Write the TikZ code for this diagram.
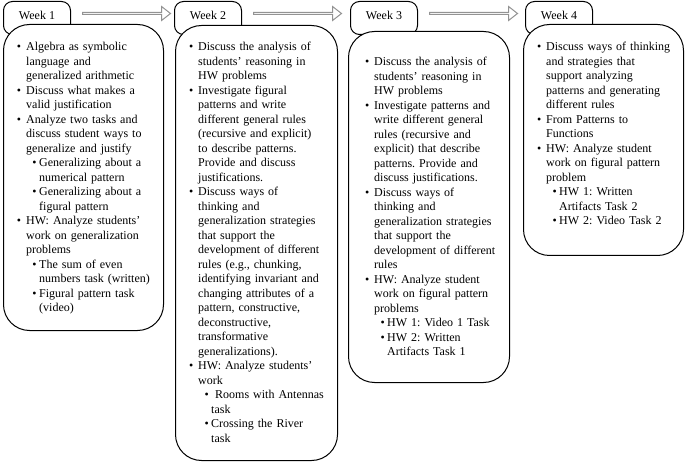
\documentclass[tikz,border=0pt]{standalone}
\usepackage{fontspec}
\setmainfont{Liberation Serif}
\usepackage{enumitem}
\usetikzlibrary{positioning,shapes.arrows}
\frenchspacing

\setlist[itemize]{nosep,label=\textbullet}
\setlist[itemize,1]{leftmargin=15pt,labelsep=5pt}
\setlist[itemize,2]{leftmargin=13pt,labelsep=2.5pt}

\tikzset{
  weektab/.style={draw=black,line width=1pt,fill=white,rounded corners=9pt,
    anchor=north west,minimum width=67pt,minimum height=33pt,
    text height=11.5pt,text depth=7.5pt,inner ysep=7pt,
    font=\fontsize{12}{14.5}\selectfont},
  weekbox/.style={draw=black,line width=1pt,fill=white,rounded corners=26pt,
    anchor=north west,inner sep=0pt},
  weektext/.style={anchor=north west,inner sep=0pt,text width=145pt,align=left,
    font=\fontsize{12}{14.5}\selectfont},
  weekarrow/.style={shape=single arrow,draw=gray!85,line width=1pt,fill=white,
    anchor=west,minimum height=88pt,minimum width=14pt,
    single arrow head extend=3pt,single arrow tip angle=76,inner sep=0pt}
}

\begin{document}
\begin{tikzpicture}[x=1pt,y=1pt]
\useasboundingbox (0,0) rectangle (685,-462);

% tabs
\node[weektab] (t1) at (3,-1) {Week 1};
\node[weektab] (t2) at (174,-1) {Week 2};
\node[weektab] (t3) at (350,-1) {Week 3};
\node[weektab] (t4) at (525,-1) {Week 4};

% arrows between the tabs
\node[weekarrow] (a1) at ([xshift=11pt,yshift=4.5pt]t1.east) {};
\node[weekarrow] (a2) at ([xshift=11pt,yshift=4.5pt]t2.east) {};
\node[weekarrow] (a3) at ([xshift=11pt,yshift=4.5pt]t3.east) {};

% boxes
\node[weekbox,minimum width=160pt,minimum height=306pt] (b1) at (3,-24) {};
\node[weekbox,minimum width=162pt,minimum height=435pt] (b2) at (175,-25) {};
\node[weekbox,minimum width=161pt,minimum height=351pt] (b3) at (348,-31) {};
\node[weekbox,minimum width=160pt,minimum height=231pt] (b4) at (523,-24) {};

% week 1
\node[weektext] (l1) at ([xshift=8pt,yshift=-12pt]b1.north west) {%
\begin{itemize}
\item Algebra as symbolic\newline language and\newline generalized arithmetic
\item Discuss what makes a\newline valid justification
\item Analyze two tasks and\newline discuss student ways to\newline generalize and justify
  \begin{itemize}
  \item Generalizing about a\newline numerical pattern
  \item Generalizing about a\newline figural pattern
  \end{itemize}
\item HW: Analyze students'\newline work on generalization\newline problems
  \begin{itemize}
  \item The sum of even\newline numbers task (written)
  \item Figural pattern task\newline (video)
  \end{itemize}
\end{itemize}};

% week 2
\node[weektext] (l2) at ([xshift=8pt,yshift=-11pt]b2.north west) {%
\begin{itemize}
\item Discuss the analysis of\newline students' reasoning in\newline HW problems
\item Investigate figural\newline patterns and write\newline different general rules\newline (recursive and explicit)\newline to describe patterns.\newline Provide and discuss\newline justifications.
\item Discuss ways of\newline thinking and\newline generalization strategies\newline that support the\newline development of different\newline rules (e.g., chunking,\newline identifying invariant and\newline changing attributes of a\newline pattern, constructive,\newline deconstructive,\newline transformative\newline generalizations).
\item HW: Analyze students'\newline work
  \begin{itemize}
  \item \ Rooms with Antennas\newline task
  \item Crossing the River\newline task
  \end{itemize}
\end{itemize}};

% week 3
\node[weektext] (l3) at ([xshift=11pt,yshift=-20pt]b3.north west) {%
\begin{itemize}
\item Discuss the analysis of\newline students' reasoning in\newline HW problems
\item Investigate patterns and\newline write different general\newline rules (recursive and\newline explicit) that describe\newline patterns. Provide and\newline discuss justifications.
\item Discuss ways of\newline thinking and\newline generalization strategies\newline that support the\newline development of different\newline rules
\item HW: Analyze student\newline work on figural pattern\newline problems
  \begin{itemize}
  \item HW 1: Video 1 Task
  \item HW 2: Written\newline Artifacts Task 1
  \end{itemize}
\end{itemize}};

% week 4
\node[weektext] (l4) at ([xshift=8pt,yshift=-12pt]b4.north west) {%
\begin{itemize}
\item Discuss ways of thinking\newline and strategies that\newline support analyzing\newline patterns and generating\newline different rules
\item From Patterns to\newline Functions
\item HW: Analyze student\newline work on figural pattern\newline problem
  \begin{itemize}
  \item HW 1: Written\newline Artifacts Task 2
  \item HW 2: Video Task 2
  \end{itemize}
\end{itemize}};
\end{tikzpicture}
\end{document}
